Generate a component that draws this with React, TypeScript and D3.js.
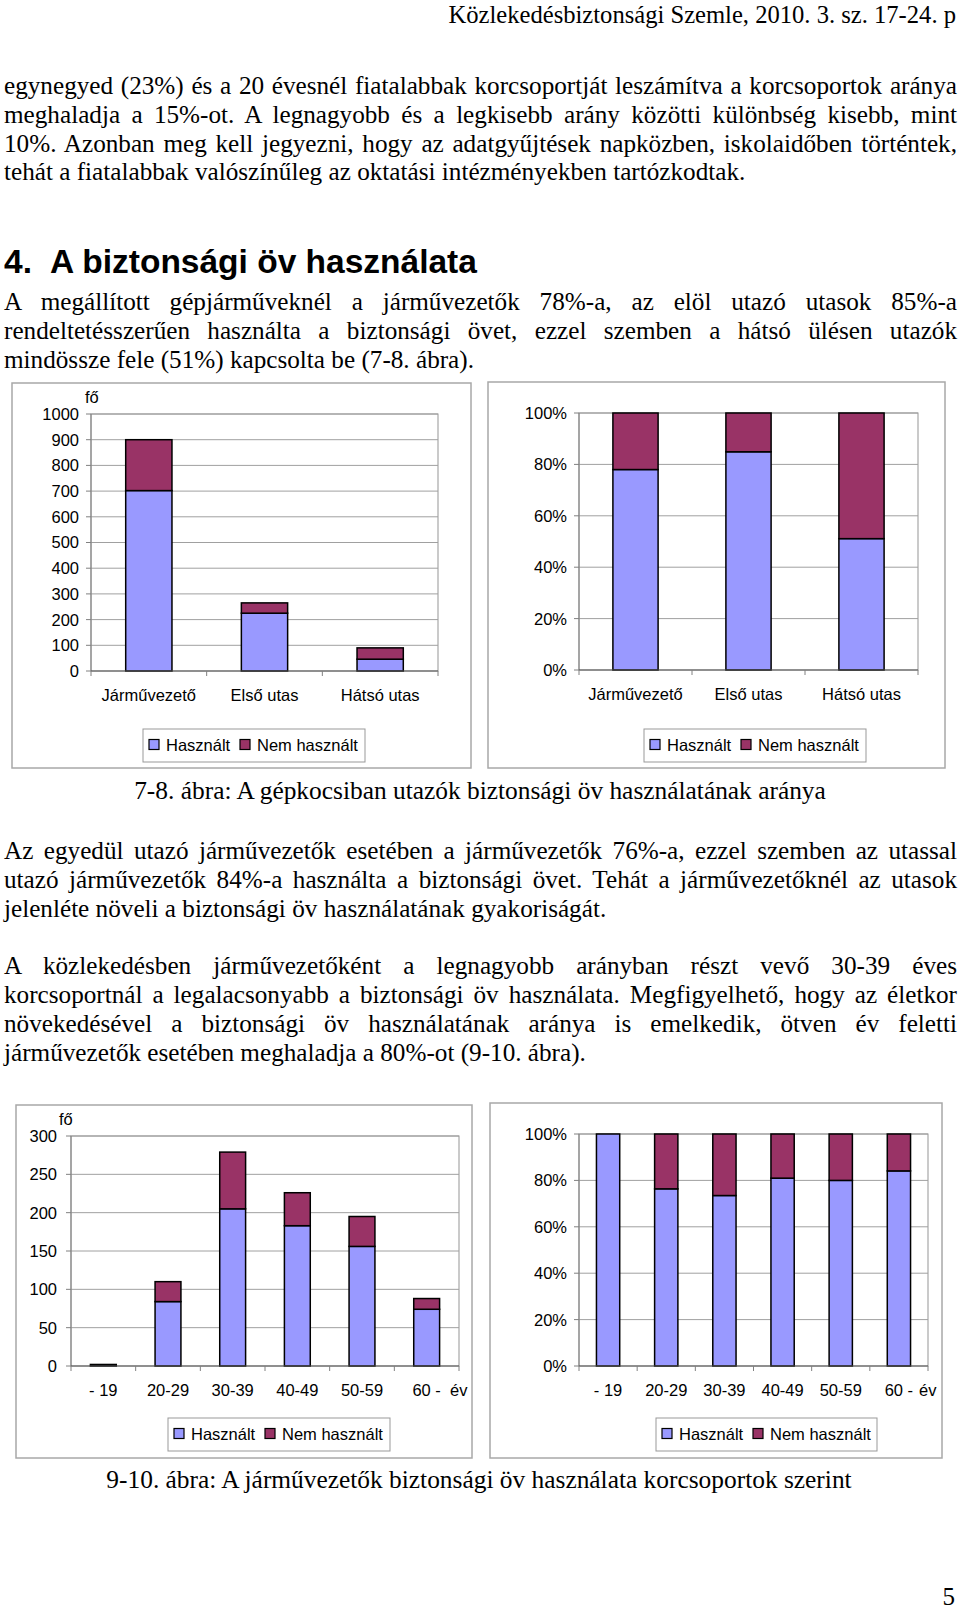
import React, { useEffect, useRef } from 'react';
import * as d3 from 'd3';

// ---------- DATA ----------
// Figure 7-8: seat position
const seatCategories = ['Járművezető', 'Első utas', 'Hátsó utas'];
const seatUsed = [702, 225, 46];
const seatNotUsed = [198, 40, 44];
const seatCountTicks = [0, 100, 200, 300, 400, 500, 600, 700, 800, 900, 1000];

// Figure 9-10: driver age groups
const ageCategories = ['- 19', '20-29', '30-39', '40-49', '50-59', '60 -'];
const ageUsed = [2, 84, 205, 183, 156, 74];
const ageNotUsed = [0, 26, 74, 43, 39, 14];
const ageCountTicks = [0, 50, 100, 150, 200, 250, 300];

const pctTicks = [0, 0.2, 0.4, 0.6, 0.8, 1];
const seriesNames = ['Használt', 'Nem használt'];
const seriesColors = ['#9999FF', '#993366'];

// ---------- TEXT ----------
const headerText = 'Közlekedésbiztonsági Szemle, 2010. 3. sz. 17-24. p';
const para1 = [
  'egynegyed (23%) és a 20 évesnél fiatalabbak korcsoportját leszámítva a korcsoportok aránya',
  'meghaladja a 15%-ot. A legnagyobb és a legkisebb arány közötti különbség kisebb, mint',
  '10%. Azonban meg kell jegyezni, hogy az adatgyűjtések napközben, iskolaidőben történtek,',
  'tehát a fiatalabbak valószínűleg az oktatási intézményekben tartózkodtak.',
];
const headingNum = '4.';
const headingText = 'A biztonsági öv használata';
const para2 = [
  'A megállított gépjárműveknél a járművezetők 78%-a, az elöl utazó utasok 85%-a',
  'rendeltetésszerűen használta a biztonsági övet, ezzel szemben a hátsó ülésen utazók',
  'mindössze fele (51%) kapcsolta be (7-8. ábra).',
];
const caption1 = '7-8. ábra: A gépkocsiban utazók biztonsági öv használatának aránya';
const para3 = [
  'Az egyedül utazó járművezetők esetében a járművezetők 76%-a, ezzel szemben az utassal',
  'utazó járművezetők 84%-a használta a biztonsági övet. Tehát a járművezetőknél az utasok',
  'jelenléte növeli a biztonsági öv használatának gyakoriságát.',
];
const para4 = [
  'A közlekedésben járművezetőként a legnagyobb arányban részt vevő 30-39 éves',
  'korcsoportnál a legalacsonyabb a biztonsági öv használata. Megfigyelhető, hogy az életkor',
  'növekedésével a biztonsági öv használatának aránya is emelkedik, ötven év feletti',
  'járművezetők esetében meghaladja a 80%-ot (9-10. ábra).',
];
const caption2 = '9-10. ábra: A járművezetők biztonsági öv használata korcsoportok szerint';
const pageNumber = '5';

// ---------- LAYOUT ----------
const W = 960;
const H = 1613;
const SERIF = '"Liberation Serif", "Times New Roman", serif';
const SANS = '"Liberation Sans", Arial, sans-serif';
const TEXT_LEFT = 4;
const TEXT_RIGHT = 957;
const BODY_SIZE = 25.2;

type Box = [number, number, number, number];
interface ChartLayout {
  frame: Box;
  plot: Box;
  legend: Box;
  labelGap: number;
  unitY?: [number, number];
  unitX?: boolean;
}

function justify(node: SVGTextElement, width: number) {
  const len = node.getComputedTextLength();
  const spaces = (node.textContent || '').split(' ').length - 1;
  if (spaces > 0) node.style.wordSpacing = `${(width - len) / spaces}px`;
}

function drawParagraph(g: any, lines: string[], baselines: number[]) {
  lines.forEach((t, i) => {
    const el = g
      .append('text')
      .attr('x', TEXT_LEFT)
      .attr('y', baselines[i])
      .attr('font-family', SERIF)
      .attr('font-size', BODY_SIZE)
      .attr('fill', '#000')
      .text(t);
    if (i < lines.length - 1) el.classed('justify', true);
  });
}

function drawChart(
  svg: any,
  layout: ChartLayout,
  cats: string[],
  used: number[],
  notUsed: number[],
  percent: boolean,
  ticks: number[],
  fmt: (v: number) => string
) {
  const g = svg.append('g');
  const [fx0, fy0, fx1, fy1] = layout.frame;
  const [px0, py0, px1, py1] = layout.plot;

  g.append('rect')
    .attr('x', fx0)
    .attr('y', fy0)
    .attr('width', fx1 - fx0)
    .attr('height', fy1 - fy0)
    .attr('fill', '#fff')
    .attr('stroke', '#a8a8a8')
    .attr('stroke-width', 1.5);

  const x = d3.scaleBand<string>().domain(cats).range([px0, px1]).padding(0);
  const y = d3
    .scaleLinear()
    .domain([0, ticks[ticks.length - 1]])
    .range([py1, py0]);

  // plot border + gridlines
  g.append('rect')
    .attr('x', px0)
    .attr('y', py0)
    .attr('width', px1 - px0)
    .attr('height', py1 - py0)
    .attr('fill', 'none')
    .attr('stroke', '#959595')
    .attr('stroke-width', 1);
  g.selectAll('line.grid')
    .data(ticks.slice(1))
    .enter()
    .append('line')
    .attr('x1', px0)
    .attr('x2', px1)
    .attr('y1', (d: number) => y(d))
    .attr('y2', (d: number) => y(d))
    .attr('stroke', '#a0a0a0')
    .attr('stroke-width', 1);

  // stacked bars
  const rows = cats.map((c, i) => ({ cat: c, used: used[i], notUsed: notUsed[i] }));
  const stack = d3
    .stack<any>()
    .keys(['used', 'notUsed'])
    .offset(percent ? d3.stackOffsetExpand : d3.stackOffsetNone);
  const series = stack(rows);
  const bw = x.bandwidth() * 0.4;
  series.forEach((s: any, si: number) => {
    g.selectAll(null)
      .data(s.filter((d: any) => d[1] - d[0] > 0))
      .enter()
      .append('rect')
      .attr('x', (d: any) => (x(d.data.cat) as number) + (x.bandwidth() - bw) / 2)
      .attr('width', bw)
      .attr('y', (d: any) => y(d[1]))
      .attr('height', (d: any) => Math.max(0.5, y(d[0]) - y(d[1])))
      .attr('fill', seriesColors[si])
      .attr('stroke', '#000')
      .attr('stroke-width', 1.5);
  });

  // axes
  g.append('line')
    .attr('x1', px0)
    .attr('x2', px0)
    .attr('y1', py0)
    .attr('y2', py1)
    .attr('stroke', '#808080');
  g.append('line')
    .attr('x1', px0)
    .attr('x2', px1)
    .attr('y1', py1)
    .attr('y2', py1)
    .attr('stroke', '#555')
    .attr('stroke-width', 1.2);
  g.selectAll(null)
    .data(ticks)
    .enter()
    .append('line')
    .attr('x1', px0 - 5)
    .attr('x2', px0)
    .attr('y1', (d: number) => y(d))
    .attr('y2', (d: number) => y(d))
    .attr('stroke', '#808080');
  const bounds = cats.map((c) => x(c) as number).concat([px1]);
  g.selectAll(null)
    .data(bounds)
    .enter()
    .append('line')
    .attr('x1', (d: number) => d)
    .attr('x2', (d: number) => d)
    .attr('y1', py1)
    .attr('y2', py1 + 5)
    .attr('stroke', '#808080');

  // tick labels
  g.selectAll(null)
    .data(ticks)
    .enter()
    .append('text')
    .attr('x', px0 - layout.labelGap)
    .attr('y', (d: number) => y(d))
    .attr('dy', '0.36em')
    .attr('text-anchor', 'end')
    .attr('font-family', SANS)
    .attr('font-size', 16.5)
    .text((d: number) => fmt(d));
  g.selectAll(null)
    .data(cats)
    .enter()
    .append('text')
    .attr('x', (d: string) => (x(d) as number) + x.bandwidth() / 2)
    .attr('y', py1 + 30)
    .attr('text-anchor', 'middle')
    .attr('font-family', SANS)
    .attr('font-size', 16.5)
    .text((d: string) => d);

  if (layout.unitY) {
    g.append('text')
      .attr('x', layout.unitY[0])
      .attr('y', layout.unitY[1])
      .attr('font-family', SANS)
      .attr('font-size', 16.5)
      .text('fő');
  }
  if (layout.unitX) {
    g.append('text')
      .attr('x', px1 - 9)
      .attr('y', py1 + 30)
      .attr('font-family', SANS)
      .attr('font-size', 16.5)
      .text('év');
  }

  // legend
  const [lx0, ly0, lx1, ly1] = layout.legend;
  g.append('rect')
    .attr('x', lx0)
    .attr('y', ly0)
    .attr('width', lx1 - lx0)
    .attr('height', ly1 - ly0)
    .attr('fill', '#fff')
    .attr('stroke', '#999');
  const cy = (ly0 + ly1) / 2;
  const offsets = [6, 97];
  seriesNames.forEach((name, i) => {
    g.append('rect')
      .attr('x', lx0 + offsets[i])
      .attr('y', cy - 6)
      .attr('width', 10)
      .attr('height', 10)
      .attr('fill', seriesColors[i])
      .attr('stroke', '#000')
      .attr('stroke-width', 1.2);
    g.append('text')
      .attr('x', lx0 + offsets[i] + 17)
      .attr('y', cy + 5)
      .attr('font-family', SANS)
      .attr('font-size', 16.5)
      .text(name);
  });
}

export default function App() {
  const ref = useRef<SVGSVGElement>(null);

  useEffect(() => {
    const svg = d3.select(ref.current);
    svg.selectAll('*').remove();

    svg.append('rect').attr('width', W).attr('height', H).attr('fill', '#fff');

    // header
    svg
      .append('text')
      .attr('x', 956)
      .attr('y', 23)
      .attr('text-anchor', 'end')
      .attr('font-family', SERIF)
      .attr('font-size', 24.6)
      .text(headerText);

    drawParagraph(svg, para1, [94, 122.8, 151.6, 180.4]);

    svg
      .append('text')
      .attr('x', TEXT_LEFT)
      .attr('y', 273)
      .attr('font-family', SANS)
      .attr('font-weight', 'bold')
      .attr('font-size', 33.5)
      .text(headingNum);
    svg
      .append('text')
      .attr('x', 50)
      .attr('y', 273)
      .attr('font-family', SANS)
      .attr('font-weight', 'bold')
      .attr('font-size', 33.5)
      .text(headingText);

    drawParagraph(svg, para2, [310, 339, 368]);

    drawChart(
      svg,
      { frame: [12, 383, 471, 768], plot: [91, 414, 438, 671], legend: [143, 729, 365, 762], labelGap: 12, unitY: [85, 403] },
      seatCategories,
      seatUsed,
      seatNotUsed,
      false,
      seatCountTicks,
      (v) => String(v)
    );
    drawChart(
      svg,
      { frame: [488, 382, 945, 768], plot: [579, 413, 918, 670], legend: [644, 729, 866, 762], labelGap: 12 },
      seatCategories,
      seatUsed,
      seatNotUsed,
      true,
      pctTicks,
      d3.format('.0%')
    );

    svg
      .append('text')
      .attr('x', 480)
      .attr('y', 799)
      .attr('text-anchor', 'middle')
      .attr('font-family', SERIF)
      .attr('font-size', 25.4)
      .text(caption1);

    drawParagraph(svg, para3, [859, 888, 917]);
    drawParagraph(svg, para4, [974, 1003, 1032, 1061]);

    drawChart(
      svg,
      { frame: [16, 1105, 472, 1458], plot: [71, 1136, 459, 1366], legend: [168, 1418, 390, 1451], labelGap: 14, unitY: [59, 1125], unitX: true },
      ageCategories,
      ageUsed,
      ageNotUsed,
      false,
      ageCountTicks,
      (v) => String(v)
    );
    drawChart(
      svg,
      { frame: [490, 1103, 942, 1458], plot: [579, 1134, 928, 1366], legend: [656, 1418, 877, 1451], labelGap: 12, unitX: true },
      ageCategories,
      ageUsed,
      ageNotUsed,
      true,
      pctTicks,
      d3.format('.0%')
    );

    svg
      .append('text')
      .attr('x', 479)
      .attr('y', 1488)
      .attr('text-anchor', 'middle')
      .attr('font-family', SERIF)
      .attr('font-size', 25.4)
      .text(caption2);

    svg
      .append('text')
      .attr('x', 955)
      .attr('y', 1605)
      .attr('text-anchor', 'end')
      .attr('font-family', SERIF)
      .attr('font-size', 25)
      .text(pageNumber);

    const doJustify = () => {
      svg.selectAll('text.justify').each(function (this: any) {
        this.style.wordSpacing = '0px';
        justify(this as SVGTextElement, TEXT_RIGHT - TEXT_LEFT);
      });
    };
    doJustify();
    if ((document as any).fonts && (document as any).fonts.ready) {
      (document as any).fonts.ready.then(doJustify);
    }
  }, []);

  return (
    <svg
      ref={ref}
      width={W}
      height={H}
      style={{ position: 'absolute', left: 0, top: 0, display: 'block' }}
    />
  );
}
